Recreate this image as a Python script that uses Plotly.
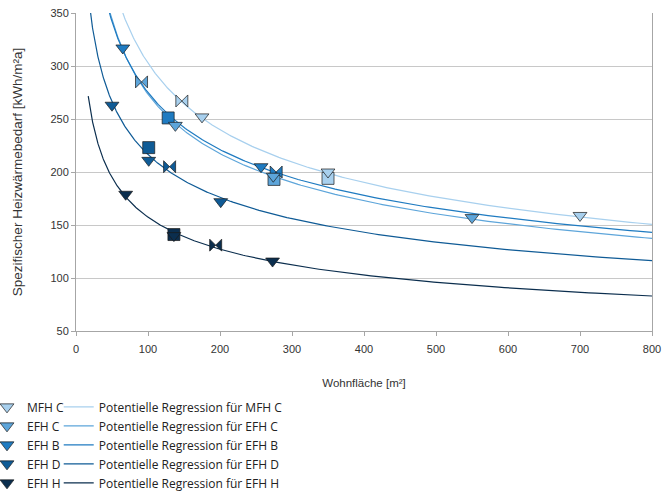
import numpy as np
import plotly.graph_objects as go

# ---------------- data ----------------
SERIES = ["MFH C", "EFH C", "EFH B", "EFH D", "EFH H"]

# Wohnfläche [m²] / spezifischer Heizwärmebedarf [kWh/m²a] / point kind
MFH_C_X = [175, 350, 700, 147, 350]
MFH_C_Y = [252, 200, 159, 267, 194]
MFH_C_K = ["tri", "tri", "tri", "bow", "sq"]

EFH_C_X = [138, 274, 550, 91, 275]
EFH_C_Y = [244, 196, 157, 285, 193]
EFH_C_K = ["tri", "tri", "tri", "bow", "sq"]

EFH_B_X = [65, 257, 278, 128]
EFH_B_Y = [317, 205, 200, 251]
EFH_B_K = ["tri", "tri", "bow", "sq"]

EFH_D_X = [50, 101, 201, 130, 101]
EFH_D_Y = [263, 211, 172, 205, 223]
EFH_D_K = ["tri", "tri", "tri", "bow", "sq"]

EFH_H_X = [69, 136, 273, 194, 136]
EFH_H_Y = [179, 140, 116, 131, 141]
EFH_H_K = ["tri", "tri", "tri", "bow", "sq"]

TREND_X_START = 17
TREND_X_END = 800

X_TICKS = [0, 100, 200, 300, 400, 500, 600, 700, 800]
Y_TICKS = [50, 100, 150, 200, 250, 300, 350]

# ---------------- styling ----------------
COLORS = ["#a8d0ee", "#5da5da", "#1f7bc1", "#0f5b96", "#0b2e4e"]
SYMBOLS = {"tri": "triangle-down", "sq": "square", "bow": "bowtie"}
SIZE = 12

DATA = [
    (MFH_C_X, MFH_C_Y, MFH_C_K),
    (EFH_C_X, EFH_C_Y, EFH_C_K),
    (EFH_B_X, EFH_B_Y, EFH_B_K),
    (EFH_D_X, EFH_D_Y, EFH_D_K),
    (EFH_H_X, EFH_H_Y, EFH_H_K),
]

fig = go.Figure()

# regression curves (power fit y = a * x^b, like Excel's "potentielle Regression")
xs = np.geomspace(TREND_X_START, TREND_X_END, 300)
for name, (x, y, k), col in zip(SERIES, DATA, COLORS):
    b, lna = np.polyfit(np.log(x), np.log(y), 1)
    fig.add_trace(go.Scatter(
        x=xs, y=np.exp(lna) * xs ** b, mode="lines",
        line=dict(color=col, width=1.2),
        name="Potentielle Regression für " + name,
        legend="legend2", hoverinfo="skip",
    ))

MARKER_LINE = dict(color="#1a1a1a", width=0.7)

# square / bowtie points first (drawn underneath), then the triangles (legend entries)
for name, (x, y, k), col in zip(SERIES, DATA, COLORS):
    sel = [i for i, t in enumerate(k) if t != "tri"]
    fig.add_trace(go.Scatter(
        x=[x[i] for i in sel], y=[y[i] for i in sel], mode="markers",
        name=name, showlegend=False,
        marker=dict(color=col, opacity=1, size=SIZE,
                    symbol=[SYMBOLS[k[i]] for i in sel], line=MARKER_LINE),
    ))
for name, (x, y, k), col in zip(SERIES, DATA, COLORS):
    sel = [i for i, t in enumerate(k) if t == "tri"]
    fig.add_trace(go.Scatter(
        x=[x[i] for i in sel], y=[y[i] for i in sel], mode="markers",
        name=name, legend="legend",
        marker=dict(color=col, opacity=1, size=SIZE,
                    symbol=SYMBOLS["tri"], line=MARKER_LINE),
    ))

AX_FAMILY = "Liberation Sans, Arial, sans-serif"
AX_FONT = dict(family=AX_FAMILY, size=11, color="#333333")
LEG_FONT = dict(family="Open Sans, sans-serif", size=12, color="#222222")

fig.update_layout(
    width=663, height=492,
    margin=dict(l=76, r=11, t=13, b=161, autoexpand=False),
    paper_bgcolor="white", plot_bgcolor="white",
    xaxis=dict(
        range=[0, 800], tickvals=X_TICKS, showgrid=False, zeroline=False,
        showline=True, linecolor="#a6a6a6", linewidth=1,
        ticks="outside", ticklen=4, tickcolor="#a6a6a6",
        tickfont=AX_FONT, ticklabelstandoff=4,
        title=dict(text="Wohnfläche [m²]", font=dict(family=AX_FAMILY, size=11.5, color="#333333"), standoff=24),
    ),
    yaxis=dict(
        range=[50, 350], tickvals=Y_TICKS, showgrid=True, gridcolor="#c8c8c8", gridwidth=1,
        zeroline=False, showline=True, mirror=True, linecolor="#a6a6a6", linewidth=1,
        ticks="outside", ticklen=4, tickcolor="#a6a6a6",
        tickfont=AX_FONT,
        title=dict(text="Spezifischer Heizwärmebedarf [kWh/m²a]", font=dict(family=AX_FAMILY, size=13.5, color="#333333"), standoff=24),
    ),
    legend=dict(
        x=-0.1545, y=-0.193, xanchor="left", yanchor="top", orientation="v",
        font=LEG_FONT, bgcolor="rgba(0,0,0,0)", itemwidth=30, tracegroupgap=0,
    ),
    legend2=dict(
        x=-0.030, y=-0.193, xanchor="left", yanchor="top", orientation="v",
        font=LEG_FONT, bgcolor="rgba(0,0,0,0)", itemwidth=30, tracegroupgap=0,
    ),
    showlegend=True,
)

fig.write_html(
    "out.html",
    config={"displayModeBar": False},
    post_script="document.body.style.margin='0';document.body.style.padding='0';",
)
